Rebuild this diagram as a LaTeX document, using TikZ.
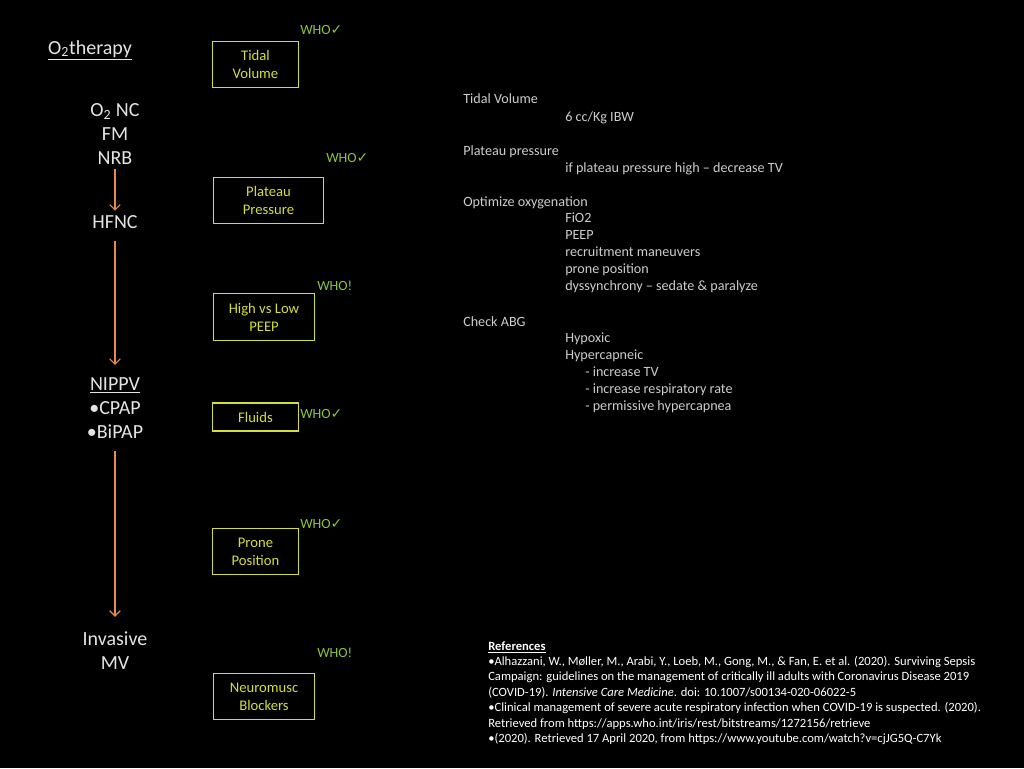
\documentclass[tikz,border=0pt]{standalone}
\usepackage{fontspec}
\setmainfont{Carlito}
\newfontfamily\symfont{DejaVu Sans}
\usepackage{tikz}
\usetikzlibrary{arrows.meta, positioning}
\definecolor{chalk}{RGB}{228,228,228}
\definecolor{notegray}{RGB}{205,205,205}
\definecolor{boxyellow}{RGB}{212,222,58}
\definecolor{whogreen}{RGB}{140,196,62}
\definecolor{flowarrow}{RGB}{232,138,78}
\newcommand{\whock}{{\symfont\char"2713}}
\tikzset{
>={Straight Barb[length=4pt,width=8pt]}, % open arrow heads
chalktext/.style={text=chalk, font=\fontsize{15}{18}\selectfont, align=center},
txbox/.style={draw=boxyellow, thick, text=boxyellow, align=center,
  font=\fontsize{11}{13.5}\selectfont, minimum height=35pt, inner sep=2pt},
whotag/.style={text=whogreen, font=\fontsize{10.5}{12}\selectfont, inner sep=0pt},
notes/.style={text=notegray, font=\fontsize{10.6}{12.75}\selectfont, align=left,
  anchor=north west, inner sep=0pt},
flow/.style={->, draw=flowarrow, thick},
}
\begin{document}
\begin{tikzpicture}[x=0.75pt, y=-0.75pt]
  \fill[black] (0,0) rectangle (1024,768);
  \useasboundingbox (0,0) rectangle (1024,768);

  % left column: oxygen escalation
  \node[chalktext] (o2head) at (90,50) {\underline{O\textsubscript{2}therapy}};
  \node[chalktext] (o2) at (115,134) {O\textsubscript{2} NC\\FM\\NRB};
  \node[chalktext] (hfnc) at (115,222) {HFNC};
  \node[chalktext] (nippv) at (115,408) {\underline{NIPPV}\\•CPAP\\•BiPAP};
  \node[chalktext] (imv) at (115,651) {Invasive\\MV};

  \draw[flow] (o2) -- (hfnc);
  \draw[flow, shorten <=6pt, shorten >=6pt] (hfnc) -- (nippv);
  \draw[flow, shorten <=6pt, shorten >=8pt] (nippv) -- (imv);

  % boxes
  \node[txbox, minimum width=64pt] (tidal) at (255.5,64.5) {Tidal\\Volume};
  \node[txbox, minimum width=83pt] (plateau) at (268.5,200.5) {Plateau\\Pressure};
  \node[txbox, minimum width=76pt] (peep) at (264,317) {High vs Low\\PEEP};
  \node[txbox, minimum width=64pt, minimum height=21pt] (fluids) at (255.5,417) {Fluids};
  \node[txbox, minimum width=64pt] (prone) at (255.5,551.5) {Prone\\Position};
  \node[txbox, minimum width=76pt] (nmb) at (264,696.5) {Neuromusc\\Blockers};

  % WHO tags
  \node[whotag, anchor=west] (who1) at (300,30) {WHO\whock};
  \node[whotag, anchor=west] (who2) at (326,158) {WHO\whock};
  \node[whotag, anchor=west] (who3) at (317,286) {WHO!};
  \node[whotag, anchor=west] (who4) at (300,414) {WHO\whock};
  \node[whotag, anchor=west] (who5) at (300,524) {WHO\whock};
  \node[whotag, anchor=west] (who6) at (317,653) {WHO!};

  % notes
  \node[notes] (tvhd) at (463,93) {Tidal Volume};
  \node[notes] (tvtx) at (565,111) {6 cc/Kg IBW};
  \node[notes] (pphd) at (463,145) {Plateau pressure};
  \node[notes] (pptx) at (565,162) {if plateau pressure high -- decrease TV};
  \node[notes] (oxhd) at (463,196) {Optimize oxygenation};
  \node[notes] (oxtx) at (565,213) {FiO2\\PEEP\\recruitment maneuvers\\prone position\\dyssynchrony -- sedate \& paralyze};
  \node[notes] (abghd) at (463,316) {Check ABG};
  \node[notes] (abgtx) at (565,333) {Hypoxic\\Hypercapneic\\
    \hspace*{15pt}- increase TV\\\hspace*{15pt}- increase respiratory rate\\\hspace*{15pt}- permissive hypercapnea};

  % references
  \node[text=white, font=\fontsize{9.45}{11.55}\selectfont, align=left, anchor=north west, inner sep=0pt] (refs) at (488,641)
    {\textbf{\underline{References}}\\
    •Alhazzani, W., Møller, M., Arabi, Y., Loeb, M., Gong, M., \& Fan, E. et al. (2020). Surviving Sepsis\\
    Campaign: guidelines on the management of critically ill adults with Coronavirus Disease 2019\\
    (COVID-19). \textit{Intensive Care Medicine}. doi: 10.1007/s00134-020-06022-5\\
    •Clinical management of severe acute respiratory infection when COVID-19 is suspected. (2020).\\
    Retrieved from https://apps.who.int/iris/rest/bitstreams/1272156/retrieve\\
    •(2020). Retrieved 17 April 2020, from https://www.youtube.com/watch?v=cjJG5Q-C7Yk};
\end{tikzpicture}
\end{document}
